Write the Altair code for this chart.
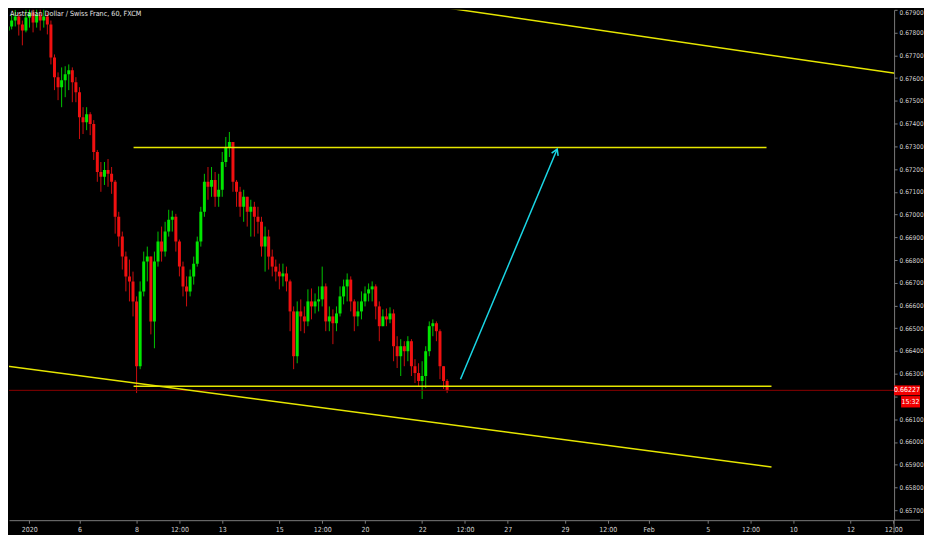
import altair as alt
import pandas as pd

TITLE = "Australian Dollar / Swiss Franc, 60, FXCM"
FONT = "Liberation Sans Narrow, DejaVu Sans Condensed, Liberation Sans, sans-serif"

# ---- candles (3-hour bars), x in trading days from Jan 6 2020 ----
first_open = 0.67757
closes = [
    0.67779, 0.67809, 0.67827, 0.67853, 0.67871, 0.67836, 0.67809, 0.67866, 0.67888, 0.67844,
    0.67879, 0.67853, 0.67871, 0.67836, 0.67691, 0.67604, 0.67560, 0.67590, 0.67617, 0.67634,
    0.67582, 0.67538, 0.67428, 0.67406, 0.67441, 0.67398, 0.67275, 0.67187, 0.67166, 0.67196,
    0.67179, 0.67144, 0.66990, 0.66903, 0.66815, 0.66728, 0.66706, 0.66618, 0.66333, 0.66662,
    0.66793, 0.66815, 0.66530, 0.66793, 0.66881, 0.66837, 0.66925, 0.66977, 0.66990, 0.66881,
    0.66771, 0.66684, 0.66662, 0.66728, 0.66784, 0.66881, 0.67012, 0.67144, 0.67122, 0.67152,
    0.67078, 0.67109, 0.67231, 0.67297, 0.67319, 0.67144, 0.67100, 0.67034, 0.67078, 0.67012,
    0.67034, 0.66990, 0.66968, 0.66859, 0.66903, 0.66815, 0.66771, 0.66749, 0.66728, 0.66741,
    0.66706, 0.66574, 0.66377, 0.66574, 0.66552, 0.66530, 0.66618, 0.66596, 0.66618, 0.66627,
    0.66684, 0.66530, 0.66552, 0.66522, 0.66565, 0.66640, 0.66684, 0.66714, 0.66618, 0.66552,
    0.66574, 0.66618, 0.66653, 0.66671, 0.66684, 0.66596, 0.66509, 0.66552, 0.66539, 0.66565,
    0.66421, 0.66377, 0.66421, 0.66399, 0.66443, 0.66333, 0.66303, 0.66268, 0.66290, 0.66399,
    0.66509, 0.66522, 0.66487, 0.66333, 0.66268, 0.66227,
]
highs = [
    0.67822, 0.67836, 0.67853, 0.67879, 0.67901, 0.67888, 0.67853, 0.67910, 0.67932, 0.67923,
    0.67940, 0.67923, 0.67910, 0.67888, 0.67853, 0.67704, 0.67625, 0.67647, 0.67652, 0.67660,
    0.67647, 0.67604, 0.67560, 0.67472, 0.67472, 0.67450, 0.67415, 0.67284, 0.67231, 0.67231,
    0.67244, 0.67209, 0.67152, 0.67012, 0.66925, 0.66837, 0.66802, 0.66749, 0.66640, 0.66706,
    0.66837, 0.66859, 0.66815, 0.66837, 0.66925, 0.66947, 0.66968, 0.67021, 0.67017, 0.67003,
    0.66890, 0.66793, 0.66728, 0.66758, 0.66815, 0.66903, 0.67034, 0.67179, 0.67209, 0.67209,
    0.67187, 0.67179, 0.67275, 0.67341, 0.67363, 0.67319, 0.67152, 0.67122, 0.67109, 0.67078,
    0.67065, 0.67056, 0.67034, 0.66990, 0.66947, 0.66933, 0.66846, 0.66802, 0.66784, 0.66784,
    0.66771, 0.66714, 0.66596, 0.66618, 0.66627, 0.66596, 0.66671, 0.66675, 0.66653, 0.66684,
    0.66771, 0.66697, 0.66596, 0.66583, 0.66596, 0.66684, 0.66714, 0.66741, 0.66728, 0.66627,
    0.66618, 0.66662, 0.66684, 0.66697, 0.66706, 0.66693, 0.66618, 0.66583, 0.66587, 0.66592,
    0.66583, 0.66465, 0.66452, 0.66443, 0.66465, 0.66452, 0.66364, 0.66346, 0.66355, 0.66421,
    0.66530, 0.66539, 0.66530, 0.66495, 0.66333, 0.66276,
]
lows = [
    0.67726, 0.67766, 0.67787, 0.67814, 0.67827, 0.67787, 0.67744, 0.67801, 0.67822, 0.67801,
    0.67822, 0.67809, 0.67822, 0.67792, 0.67660, 0.67547, 0.67503, 0.67472, 0.67516, 0.67547,
    0.67494, 0.67494, 0.67332, 0.67354, 0.67371, 0.67349, 0.67240, 0.67144, 0.67100, 0.67130,
    0.67122, 0.67091, 0.66916, 0.66859, 0.66758, 0.66662, 0.66618, 0.66552, 0.66215, 0.66320,
    0.66640, 0.66706, 0.66473, 0.66412, 0.66771, 0.66793, 0.66815, 0.66903, 0.66925, 0.66837,
    0.66728, 0.66640, 0.66596, 0.66640, 0.66692, 0.66771, 0.66859, 0.66990, 0.67065, 0.67078,
    0.67034, 0.67034, 0.67078, 0.67209, 0.67253, 0.67100, 0.67034, 0.66990, 0.66968, 0.66947,
    0.66903, 0.66903, 0.66916, 0.66815, 0.66749, 0.66758, 0.66728, 0.66706, 0.66671, 0.66684,
    0.66662, 0.66487, 0.66320, 0.66346, 0.66487, 0.66478, 0.66509, 0.66539, 0.66565, 0.66574,
    0.66596, 0.66487, 0.66487, 0.66430, 0.66487, 0.66552, 0.66605, 0.66618, 0.66574, 0.66487,
    0.66509, 0.66539, 0.66596, 0.66618, 0.66618, 0.66539, 0.66443, 0.66509, 0.66509, 0.66522,
    0.66355, 0.66325, 0.66290, 0.66333, 0.66355, 0.66290, 0.66259, 0.66246, 0.66189, 0.66237,
    0.66377, 0.66465, 0.66443, 0.66276, 0.66233, 0.66215,
]
first_day = -2.75
bar_step = 0.125  # 3 hours

# ---- drawings ----
seg_d1 = [11.808, 1.895, 1.895, -2.747]
seg_p1 = [0.67928, 0.67295, 0.66245, 0.66337]
seg_d2 = [28.771, 24.06, 24.234, 24.234]
seg_p2 = [0.67617, 0.67295, 0.66245, 0.65890]
arrow_d = [13.344, 16.730]
arrow_p = [0.66276, 0.67288]
last_price = 0.66227
last_label = "0.66227"
countdown = "15:32"

# ---- axes ----
y_ticks = [0.657, 0.658, 0.659, 0.660, 0.661, 0.662, 0.663, 0.664, 0.665, 0.666, 0.667, 0.668,
           0.669, 0.670, 0.671, 0.672, 0.673, 0.674, 0.675, 0.676, 0.677, 0.678, 0.679]
hidden_y_label = 0.662  # covered by the last-price marker
x_tick_days = [-1.76, 0, 2, 3.5, 5, 7, 8.5, 10, 12, 13.5, 15, 17, 18.5, 19.93, 22, 23.5, 25, 27, 28.5]
x_tick_labels = ["2020", "6", "8", "12:00", "13", "15", "12:00", "20", "22", "12:00", "27", "29",
                 "12:00", "Feb", "5", "12:00", "10", "12", "12:00"]

X_DOMAIN = [-2.468, 28.528]
Y_DOMAIN = [0.65656, 0.67900]
W, H = 888, 512

n = min(len(closes), len(highs), len(lows))
opens = [first_open] + closes[: n - 1]
df = pd.DataFrame({
    "day": [first_day + bar_step * i for i in range(n)],
    "open": opens[:n], "high": highs[:n], "low": lows[:n], "close": closes[:n],
})
df["dir"] = ["up" if c >= o else "down" for o, c in zip(df["open"], df["close"])]

segs = pd.DataFrame({"d1": seg_d1, "p1": seg_p1, "d2": seg_d2, "p2": seg_p2})
arrow = pd.DataFrame({"d1": [arrow_d[0]], "p1": [arrow_p[0]], "d2": [arrow_d[1]], "p2": [arrow_p[1]]})
lab = pd.DataFrame({"price": [last_price], "label": [last_label], "cd": [countdown], "title": [TITLE]})

AX_GREY = "#7a7a7a"
LBL = "#d4d4d4"
xs = alt.Scale(domain=X_DOMAIN, nice=False, zero=False, padding=0)
ys = alt.Scale(domain=Y_DOMAIN, nice=False, zero=False, padding=0)

lbl_expr = "[" + ",".join("'%s'" % s for s in x_tick_labels) + "][indexof([" + \
    ",".join(repr(v) for v in x_tick_days) + "], datum.value)]"
y_lbl_expr = "abs(datum.value - %r) < 0.00001 ? '' : format(datum.value, '.5f')" % hidden_y_label

x_axis = alt.Axis(orient="bottom", values=x_tick_days, labelExpr=lbl_expr, title=None, grid=False,
                  tickSize=3, labelPadding=2, domainColor=AX_GREY, tickColor=AX_GREY,
                  labelColor=LBL, labelFont=FONT, labelFontSize=7, labelFlush=False,
                  labelOverlap=False)
y_axis = alt.Axis(orient="right", values=y_ticks, labelExpr=y_lbl_expr, title=None, grid=False,
                  tickSize=3, labelPadding=2, domainColor=AX_GREY, tickColor=AX_GREY,
                  labelColor=LBL, labelFont=FONT, labelFontSize=6.5, labelOverlap=False,
                  labelFlush=3)


def X(field):
    return alt.X(field, type="quantitative", scale=xs, axis=x_axis, title=None)


def Y(field):
    return alt.Y(field, type="quantitative", scale=ys, axis=y_axis, title=None)


color = alt.Color("dir:N", scale=alt.Scale(domain=["up", "down"], range=["#00e600", "#f01010"]),
                  legend=None)

base = alt.Chart(df)
wicks = base.mark_rule(strokeWidth=1, clip=True, opacity=0.85).encode(
    x=X("day"), y=Y("low"), y2="high:Q", color=color,
)
bodies = base.mark_bar(size=3.0, clip=True).encode(
    x=X("day"), y=Y("open"), y2="close:Q", color=color,
)

price_line = alt.Chart(lab).mark_rule(color="#8b0000", strokeWidth=1).encode(y=Y("price"))

trend = alt.Chart(segs).mark_rule(color="#e6e600", strokeWidth=1.5, clip=True).encode(
    x=X("d1"), y=Y("p1"), x2="d2:Q", y2="p2:Q",
)

arrow_line = alt.Chart(arrow).mark_rule(color="#1ad7e6", strokeWidth=1.5, clip=True).encode(
    x=X("d1"), y=Y("p1"), x2="d2:Q", y2="p2:Q",
)
arrow_head = alt.Chart(arrow).mark_point(
    shape="M-0.5,0.85L0,0L0.5,0.85", filled=False, size=200, angle=22.8,
    strokeWidth=1.5, color="#1ad7e6", opacity=1,
).encode(x=X("d2"), y=Y("p2"))

BOX_W = 26
price_box = alt.Chart(lab).mark_point(
    shape="M-1,-0.38L1,-0.38L1,0.38L-1,0.38Z", filled=True, size=BOX_W * BOX_W, color="#f20000",
    opacity=1, strokeWidth=0,
).encode(x=alt.value(W + BOX_W / 2), y=Y("price"))
price_text = alt.Chart(lab).mark_text(
    color="white", font=FONT, fontSize=7, align="center", baseline="middle",
).encode(x=alt.value(W + BOX_W / 2), y=Y("price"), text="label:N")
cd_box = alt.Chart(lab).mark_point(
    shape="M-1,-0.6L1,-0.6L1,0.6L-1,0.6Z", filled=True, size=361, color="#f20000",
    opacity=1, strokeWidth=0, yOffset=11.5,
).encode(x=alt.value(W + BOX_W - 9.5), y=Y("price"))
cd_text = alt.Chart(lab).mark_text(
    color="white", font=FONT, fontSize=7, align="center", baseline="middle", yOffset=11.5,
).encode(x=alt.value(W + BOX_W - 9.5), y=Y("price"), text="cd:N")

axis_ext_v = alt.Chart(lab).mark_rule(color=AX_GREY, strokeWidth=1).encode(
    x=alt.value(W), y=alt.value(H), y2=alt.value(H + 13)
)
axis_ext_h = alt.Chart(lab).mark_rule(color=AX_GREY, strokeWidth=1).encode(
    x=alt.value(W), x2=alt.value(W + BOX_W), y=alt.value(H)
)

title = alt.Chart(lab).mark_text(
    color="#e6e6e6", font=FONT, fontSize=7.2, align="left", baseline="middle",
).encode(x=alt.value(1), y=alt.value(4.5), text="title:N")

chart = alt.layer(
    wicks, bodies, price_line, trend, arrow_line, arrow_head,
    price_box, price_text, cd_box, cd_text, axis_ext_v, axis_ext_h, title,
).properties(
    width=W, height=H, padding=0, background="#000000"
).configure_view(strokeWidth=0)

chart.save("out.html", embed_options={"renderer": "svg", "actions": False})
